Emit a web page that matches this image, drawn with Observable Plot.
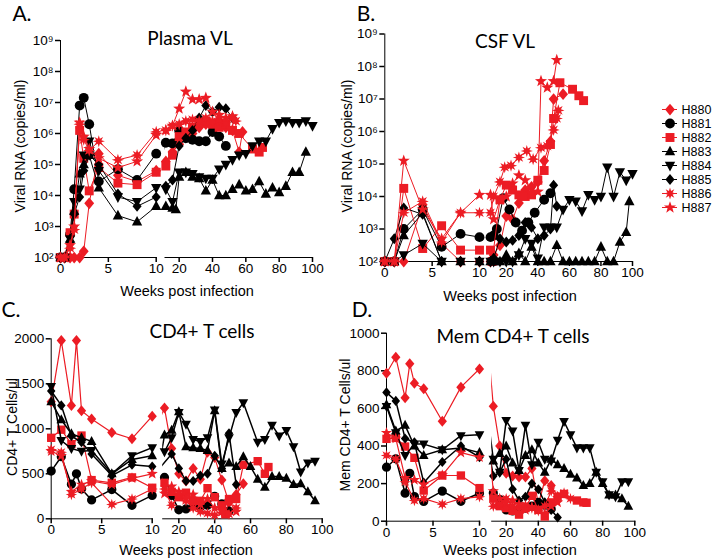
<!DOCTYPE html>
<html><head><meta charset="utf-8">
<script src="https://cdn.jsdelivr.net/npm/d3@7"></script>
<script src="https://cdn.jsdelivr.net/npm/@observablehq/plot@0.6"></script>
<style>
body{margin:0;background:#fff;}
#chart{position:relative;width:715px;height:558px;overflow:hidden;background:#fff;font-family:"Liberation Sans",Arial,sans-serif;}
#chart svg{position:absolute;left:0;top:0;overflow:visible;}
#chart svg g[aria-label*="axis"] line,#chart svg g[aria-label*="axis"] path{stroke-width:1.5px;}
.t{position:absolute;white-space:nowrap;color:#000;line-height:1;transform:translate(-50%,-50%);}
.r{transform:translate(-50%,-50%) rotate(-90deg);}
.cal{font-family:Lato,"Open Sans",sans-serif;}
</style></head>
<body><div id="chart"></div>
<script>
// ---------- data: [week, value] (viral loads as log10 copies/ml) ----------
const ids = ["H880","H881","H882","H883","H884","H885","H886","H887"];

const plasma_H880 = [[0,2],[0.43,2],[1,2],[1.43,2],[2,2],[2.43,2.2],[3,3.75],[4,5.35],[6,4.65],[8,4.45],[10,4.8],[12,5.1],[16,5.4],[20,5.65],[24,5.9],[28,6.0],[32,6.2],[36,6.3],[40,6.2],[44,6.35],[48,6.2],[52,6.1],[56,5.4],[58,6.05]];
const plasma_H881 = [[0,2],[0.43,2],[1,2.75],[1.43,4.2],[2,6.9],[2.43,7.15],[3,6.3],[4,4.45],[6,4.85],[8,4.5],[10,5.35],[12,5.7],[16,5.68],[20,6.1],[24,5.85],[28,5.8],[32,5.75],[36,5.75],[40,6.05],[44,5.9],[48,5.6]];
const plasma_H882 = [[0,2],[0.43,2],[1,2.8],[1.43,3.4],[2,6.1],[2.43,5.2],[3,4.15],[4,4.9],[6,4.4],[8,4.35],[10,4.75],[12,4.95],[16,5.3],[20,5.9],[24,6.05],[28,6.2],[32,6.35],[36,6.4],[40,6.3],[44,6.2],[48,6.3],[52,6.1],[56,6.0],[64,5.5],[68,5.4],[70,5.55]];
const plasma_H883 = [[0,2],[0.43,2],[1,2.6],[1.43,3.5],[2,4.7],[2.43,5.0],[3,5.3],[4,4.25],[6,3.35],[8,3.15],[10,3.65],[12,3.65],[16,3.6],[18,3.55],[20,4.6],[24,4.75],[28,4.6],[32,4.55],[36,4.15],[40,4.5],[44,4.0],[48,4.0],[52,4.2],[56,4.35],[60,4.15],[64,4.2],[68,4.45],[72,4.05],[76,4.25],[80,4.1],[84,4.3],[88,4.75],[92,4.75],[96,5.4]];
const plasma_H884 = [[0,2],[0.43,2],[1,2.6],[1.43,3.8],[2,4.2],[2.43,5.3],[3,5.75],[4,4.8],[6,3.95],[8,3.8],[10,4.25],[12,4.2],[16,3.8],[20,4.75],[24,4.75],[28,4.7],[32,4.6],[36,4.55],[40,4.55],[44,4.85],[48,5.0],[52,5.15],[56,5.3],[60,5.35],[64,5.6],[68,5.75],[72,5.75],[76,6.15],[80,6.35],[84,6.4],[88,6.35],[92,6.35],[96,6.4],[100,6.25]];
const plasma_H885 = [[0,2],[0.43,2],[1,2.5],[1.43,3.4],[2,3.95],[2.43,4.8],[3,5.3],[4,5.0],[6,4.05],[8,3.65],[10,3.95],[12,4.3],[16,4.5],[20,5.6],[24,5.85],[28,6.1],[32,6.5],[36,6.9],[40,6.7],[44,6.85],[48,6.8],[52,6.5]];
const plasma_H886 = [[0,2],[0.43,2],[1,2.3],[1.43,2.9],[2,6.3],[2.43,5.8],[3,5.45],[4,5.75],[6,5.15],[8,5.3],[10,6.05],[12,6.1],[16,6.25],[20,6.3],[24,6.4],[28,6.45],[32,6.4],[36,6.5],[40,6.4],[44,6.45],[48,6.35],[52,6.5],[54,6.4]];
const plasma_H887 = [[0,2],[0.43,2],[1,2.4],[1.43,3.0],[2,6.35],[2.43,5.9],[3,5.5],[4,5.2],[6,4.9],[8,5.1],[10,5.95],[12,6.1],[16,6.25],[20,6.8],[24,7.35],[28,7.1],[32,7.1],[36,7.15],[40,6.7],[44,6.6],[48,6.5],[52,6.55]];

const csf_H880 = [[0,2],[1,2],[2,2],[4,3.75],[6,2.55],[8,2],[10,2],[12,2.2],[16,2.5],[20,3.4],[24,3.3],[28,3.8],[32,4.2],[36,4.3],[40,4.45],[44,5.1],[48,5.7],[50,7.0],[56,7.15]];
const csf_H881 = [[0,2],[1,2],[2,3.0],[4,3.6],[6,2.45],[8,2.85],[10,2.75],[12,2.8],[14,3.0],[18,3.95],[22,3.6],[26,3.2],[30,2.95],[34,3.2],[38,3.5],[44,3.9],[48,4.1]];
const csf_H882 = [[0,2],[1,2],[2,4.25],[4,2.4],[6,3.1],[8,2.35],[10,2.35],[11,2.0],[16,3.9],[20,4.35],[24,4.2],[28,4.05],[32,4.0],[36,4.05],[40,4.5],[44,4.8],[48,5.6],[50,6.4],[54,7.5],[62,7.3],[66,7.1],[69,6.95]];
const csf_H883 = [[0,2],[1,2],[2,2.8],[4,3.5],[6,2],[8,2],[10,2],[12,2],[16,2],[20,2.2],[24,2],[28,2.25],[32,2],[36,2.45],[40,2],[44,2],[48,2],[52,2.5],[56,2],[60,2],[64,2],[68,2],[72,2],[76,2],[80,2.45],[84,2],[88,2],[92,2.6],[96,2.9],[98,3.85]];
const csf_H884 = [[0,2],[1,2],[2,2.2],[4,2.55],[6,2],[8,2],[10,2],[12,2],[16,2],[20,2],[24,2],[28,2.2],[32,2.7],[36,2.55],[40,2.1],[44,3.05],[48,3.05],[52,3.05],[56,3.6],[60,3.9],[64,3.85],[68,3.55],[72,4.05],[76,3.9],[80,4.0],[84,4.9],[88,4.0],[92,4.75],[96,4.5],[100,4.7]];
const csf_H885 = [[0,2],[1,2.7],[2,3.65],[4,3.45],[6,2],[8,2],[10,2],[12,2.1],[16,2.7],[20,2.6],[24,2.65],[28,2.8],[32,3.2],[36,3.05],[40,2.7],[44,2.8],[48,3.0],[50,4.35],[52,3.7]];
const csf_H886 = [[0,2],[1,2],[2,3.5],[4,3.85],[6,2.6],[8,3.5],[10,3.5],[12,4.0],[16,4.45],[19,4.9],[23,4.95],[28,5.2],[33,5.4],[37,5.15],[42,5.5],[46,5.55],[50,6.05],[52,6.4],[53,6.65]];
const csf_H887 = [[0,2],[1,2],[2,5.1],[4,3.6],[6,2.7],[8,3.5],[10,4.05],[12,3.3],[16,3.9],[20,4.0],[24,4.4],[28,4.65],[32,4.5],[36,4.1],[40,4.15],[42,7.55],[46,7.35],[50,7.55],[52,8.2]];

const cd4_H880 = [[0,1300],[1,1980],[2,1260],[2.5,1980],[3,1200],[4,1110],[6,960],[8,890],[10,1140],[12,1230],[16,780],[20,500],[24,420],[28,560],[32,440],[36,740],[40,680],[44,430],[48,180],[52,270],[56,390]];
const cd4_H881 = [[0,530],[1,690],[2,385],[2.5,500],[3,330],[4,210],[6,325],[8,150],[10,260],[12,460],[16,260],[20,100],[24,110],[28,145],[32,130],[36,150],[40,250],[44,165],[48,85]];
const cd4_H882 = [[0,900],[1,990],[2,830],[3,925],[4,430],[6,400],[8,460],[10,345],[12,400],[16,300],[20,240],[24,290],[28,200],[32,200],[36,340],[40,240],[44,150],[46,50],[48,220],[52,220],[56,600],[64,640],[68,500],[70,575]];
const cd4_H883 = [[0,1300],[1,1100],[2,945],[3,900],[4,860],[6,500],[8,660],[10,700],[12,930],[16,985],[20,1190],[24,800],[28,790],[32,780],[36,760],[40,1200],[44,560],[48,620],[52,580],[56,690],[60,580],[64,440],[68,350],[72,470],[76,470],[80,450],[84,380],[88,390],[92,300],[96,200]];
const cd4_H884 = [[0,1470],[1,870],[2,780],[3,750],[4,760],[6,500],[8,700],[10,790],[12,745],[16,900],[20,1180],[24,1050],[28,880],[32,860],[36,900],[40,1210],[44,610],[48,900],[52,1180],[56,1290],[64,850],[68,880],[72,1040],[76,920],[80,980],[84,800],[88,520],[92,620],[96,640]];
const cd4_H885 = [[0,1420],[1,1260],[2,920],[3,850],[4,720],[6,480],[8,600],[10,580],[16,720],[20,560],[24,420],[28,420],[32,480],[36,500],[40,700],[44,560],[48,950],[52,380]];
const cd4_H886 = [[0,770],[1,740],[2,270],[3,330],[4,400],[6,160],[8,220],[10,330],[12,330],[16,150],[20,260],[24,200],[28,120],[32,80],[36,60],[40,40],[44,70],[48,50],[52,120]];
const cd4_H887 = [[0,750],[1,700],[2,300],[3,380],[4,420],[6,380],[8,450],[10,500],[12,280],[16,360],[20,300],[24,230],[28,270],[32,160],[36,220],[40,120],[44,90],[48,200],[52,80]];

const mem_H880 = [[0,787],[1,872],[2,656],[2.5,837],[3,734],[4,704],[6,532],[8,713],[10,810],[12,612],[16,400],[20,255],[24,240],[28,235],[32,235],[36,280],[40,90],[44,215],[48,190],[52,130]];
const mem_H881 = [[0,287],[1,332],[2,149],[2.5,255],[3,131],[4,105],[6,160],[8,106],[10,149],[12,150],[16,115],[20,60],[24,55],[28,65],[32,70],[36,80],[40,100],[44,85],[48,65]];
const mem_H882 = [[0,438],[1,443],[2,397],[3,337],[4,163],[6,243],[8,243],[10,176],[12,120],[16,80],[20,70],[24,55],[28,35],[32,70],[36,135],[40,60],[44,25],[48,100],[52,130],[56,145],[64,110],[68,100],[70,98]];
const mem_H883 = [[0,620],[1,480],[2,510],[3,400],[4,350],[6,380],[8,390],[10,365],[12,320],[16,360],[20,400],[24,310],[28,270],[32,350],[36,380],[40,310],[44,260],[48,330],[52,300],[56,280],[60,250],[64,230],[68,190],[72,200],[76,260],[80,200],[84,140],[88,140],[92,120],[96,80]];
const mem_H884 = [[0,610],[1,470],[2,350],[3,410],[4,410],[6,380],[8,455],[10,460],[12,330],[16,260],[20,535],[24,480],[28,270],[32,510],[36,300],[40,420],[44,330],[48,320],[52,430],[56,530],[60,460],[64,390],[68,390],[72,390],[76,260],[80,210],[84,140],[88,130],[92,210],[96,210]];
const mem_H885 = [[0,685],[1,640],[2,440],[3,420],[4,205],[6,315],[8,400],[10,340],[12,240],[16,260],[20,330],[24,170],[28,110],[32,130],[36,200],[40,170],[44,100],[48,60],[52,20]];
const mem_H886 = [[0,350],[1,330],[2,210],[3,110],[4,120],[6,90],[8,120],[10,130],[12,80],[16,90],[20,120],[24,80],[28,70],[32,85],[36,70],[40,55],[44,80],[48,160],[52,130],[56,150],[60,120]];
const mem_H887 = [[0,470],[1,440],[2,230],[3,220],[4,195],[6,245],[8,365],[10,340],[12,160],[16,120],[20,100],[24,110],[28,90],[32,60],[36,75],[40,60],[44,40],[48,80],[52,100]];

// tick values
const vlTicks = [1e2,1e3,1e4,1e5,1e6,1e7,1e8,1e9];
const cd4Ticks = [0,500,1000,1500,2000];
const memTicks = [0,200,400,600,800,1000];
const earlyWeekTicks = [0,5,10];
const lateWeekTicks = [20,40,60,80,100];

// ---------- styles ----------
const RED = "#ec1c24", BLACK = "#000";
const colorOf = {H880:RED,H881:BLACK,H882:RED,H883:BLACK,H884:BLACK,H885:BLACK,H886:RED,H887:RED};
const rad = s => Math.sqrt(s/Math.PI);
function poly(ctx, pts){ctx.moveTo(pts[0][0],pts[0][1]);for(let i=1;i<pts.length;i++)ctx.lineTo(pts[i][0],pts[i][1]);ctx.closePath();}
function starPts(n, ro, ri, rot){const p=[];for(let i=0;i<2*n;i++){const a=rot+i*Math.PI/n;const rr=i%2?ri:ro;p.push([rr*Math.sin(a),-rr*Math.cos(a)]);}return p;}
const symbols = {
  H880:{draw(c,s){const r=rad(s);poly(c,[[0,-1.25*r],[1.05*r,0],[0,1.25*r],[-1.05*r,0]]);}},
  H881:{draw(c,s){const r=rad(s)*1.05;c.moveTo(r,0);c.arc(0,0,r,0,2*Math.PI);}},
  H882:{draw(c,s){const h=rad(s)*0.95;poly(c,[[-h,-h],[h,-h],[h,h],[-h,h]]);}},
  H883:{draw(c,s){const r=rad(s);poly(c,[[0,-1.25*r],[1.1*r,0.8*r],[-1.1*r,0.8*r]]);}},
  H884:{draw(c,s){const r=rad(s);poly(c,[[0,1.25*r],[1.1*r,-0.8*r],[-1.1*r,-0.8*r]]);}},
  H885:{draw(c,s){const r=rad(s)*0.92;poly(c,[[0,-1.25*r],[1.05*r,0],[0,1.25*r],[-1.05*r,0]]);}},
  H886:{draw(c,s){const r=rad(s);poly(c,starPts(8,1.3*r,0.6*r,0));}},
  H887:{draw(c,s){const r=rad(s);poly(c,starPts(5,1.35*r,0.55*r,0));}}
};

const sup = {"0":"⁰","1":"¹","2":"²","3":"³","4":"⁴","5":"⁵","6":"⁶","7":"⁷","8":"⁸","9":"⁹"};
const powFmt = d => "10" + String(Math.round(Math.log10(d))).split("").map(c => sup[c]).join("");

const panels = [
  {series:[plasma_H880,plasma_H881,plasma_H882,plasma_H883,plasma_H884,plasma_H885,plasma_H886,plasma_H887], log:true,
   yDomain:[1e2,1e9], yTicks:vlTicks, yTop:40, yBot:257,
   segs:[{domain:[0,10],x0:60,x1:155.7,ticks:earlyWeekTicks},{domain:[11.5,100],x0:164.5,x1:312,ticks:lateWeekTicks}], r:4.7, sw:1},
  {series:[csf_H880,csf_H881,csf_H882,csf_H883,csf_H884,csf_H885,csf_H886,csf_H887], log:true,
   yDomain:[1e2,1e9], yTicks:vlTicks, yTop:33.5, yBot:261,
   segs:[{domain:[0,10],x0:384.3,x1:479,ticks:earlyWeekTicks},{domain:[10,100],x0:490,x1:632,ticks:lateWeekTicks}], r:4.7, sw:1},
  {series:[cd4_H880,cd4_H881,cd4_H882,cd4_H883,cd4_H884,cd4_H885,cd4_H886,cd4_H887], log:false,
   yDomain:[0,2000], yTicks:cd4Ticks, yTop:338.3, yBot:518.3,
   segs:[{domain:[0,10],x0:50.7,x1:151.7,ticks:earlyWeekTicks},{domain:[11,100],x0:162.2,x1:321.7,ticks:lateWeekTicks}], r:4.4, sw:1.5},
  {series:[mem_H880,mem_H881,mem_H882,mem_H883,mem_H884,mem_H885,mem_H886,mem_H887], log:false,
   yDomain:[0,1000], yTicks:memTicks, yTop:332.7, yBot:520.7,
   segs:[{domain:[0,10],x0:386,x1:479,ticks:earlyWeekTicks},{domain:[11,100],x0:491.2,x1:634.3,ticks:lateWeekTicks}], r:4.4, sw:1.5}
];

const chart = document.getElementById("chart");
const W = 715, H = 558;
const plotStyle = {background:"transparent", fontSize:"13.5px", fontFamily:"'Liberation Sans', Arial, sans-serif", color:"#000", overflow:"visible"};

for (const p of panels) {
  const tables = p.series.map((arr, i) => arr.map(([w, v]) => ({id: ids[i], week: w, value: p.log ? Math.pow(10, v) : v})));
  p.segs.forEach((s, si) => {
    const marks = [];
    tables.forEach((rows, i) => {
      const id = ids[i];
      const red = colorOf[id] === RED;
      marks.push(Plot.line(rows, {x:"week", y:"value", stroke: colorOf[id], strokeWidth: red ? Math.max(1, p.sw - 0.3) : p.sw, clip: true}));
      const inside = rows.filter(d => d.week >= s.domain[0] - 1e-9 && d.week <= s.domain[1] + 1e-9);
      marks.push(Plot.dot(inside, {x:"week", y:"value", symbol: symbols[id], fill: colorOf[id], r: p.r}));
    });
    const svg = Plot.plot({
      width: W, height: H,
      marginLeft: s.x0, marginRight: W - s.x1, marginTop: p.yTop, marginBottom: H - p.yBot,
      style: plotStyle,
      x: {domain: s.domain, ticks: s.ticks, tickSize: 5, tickPadding: 1, line: true, label: null, tickFormat: d => String(d)},
      y: {type: p.log ? "log" : "linear", domain: p.yDomain, axis: si === 0 ? "left" : null,
          ticks: p.yTicks, tickSize: 5, tickPadding: 2, line: true, label: null,
          tickFormat: p.log ? powFmt : (d => String(d))},
      marks
    });
    // enlarge the axis tick labels (Plot's axes default to 10px)
    svg.querySelectorAll("text").forEach(t => { t.style.fontSize = "13.5px"; });
    svg.querySelectorAll("g").forEach(g => { if (g.getAttribute("font-size")) g.style.fontSize = "13.5px"; });
    chart.appendChild(svg);
  });
}

// legend (drawn with Plot's own point scale)
{
  const marks = [];
  ids.forEach(id => {
    marks.push(Plot.ruleY([id], {y: d => d, x1: 0, x2: 1, stroke: colorOf[id], strokeWidth: 1}));
    marks.push(Plot.dot([id], {x: 0.5, y: d => d, symbol: symbols[id], fill: colorOf[id], r: 4.7}));
    marks.push(Plot.text([id], {x: 1, y: d => d, text: d => d, dx: 4, textAnchor: "start", fontSize: 12.5, fill: "#000"}));
  });
  const svg = Plot.plot({
    width: W, height: H, marginLeft: 662, marginRight: W - 677, marginTop: 107, marginBottom: H - 208,
    style: plotStyle,
    x: {domain: [0, 1], axis: null},
    y: {type: "point", domain: ids, axis: null, padding: 0},
    marks
  });
  chart.appendChild(svg);
}

// text labels
function label(text, cx, cy, size, cls) {
  const d = document.createElement("div");
  d.className = "t " + (cls || "");
  d.textContent = text;
  d.style.left = cx + "px"; d.style.top = cy + "px"; d.style.fontSize = size + "px";
  chart.appendChild(d);
}
label("A.", 22, 12, 21, "cal");
label("B.", 366, 12, 21, "cal");
label("C.", 11, 308, 21, "cal");
label("D.", 362, 308, 21, "cal");
label("Plasma VL", 190, 37, 19, "cal");
label("CSF VL", 505, 40, 19, "cal");
label("CD4+ T cells", 202, 330, 19, "cal");
label("Mem CD4+ T cells", 513, 335, 19, "cal");
label("Viral RNA (copies/ml)", 20, 146, 14, "r");
label("Viral RNA (copies/ml)", 347, 146, 14, "r");
label("CD4+ T Cells/ul", 12, 427, 14, "r");
label("Mem CD4+ T Cells/ul", 345, 425, 14, "r");
label("Weeks post infection", 187, 291, 14.5);
label("Weeks post infection", 510, 296, 14.5);
label("Weeks post infection", 186, 550, 14.5);
label("Weeks post infection", 510, 550, 14.5);
</script>
</body></html>
